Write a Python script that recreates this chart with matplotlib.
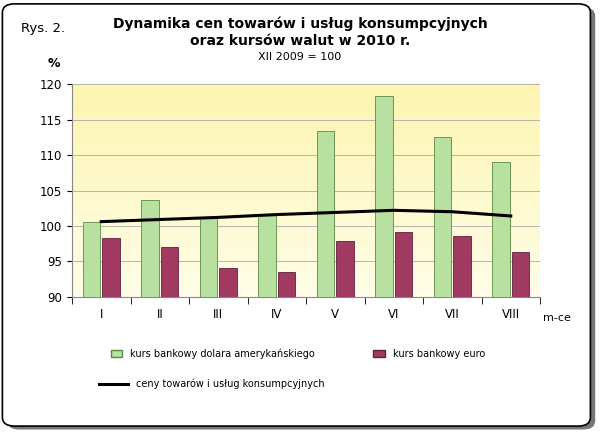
import matplotlib.pyplot as plt
import numpy as np
from matplotlib.patches import FancyBboxPatch, Patch
from matplotlib.lines import Line2D
from matplotlib.colors import LinearSegmentedColormap

# dane
miesiace = ["I", "II", "III", "IV", "V", "VI", "VII", "VIII"]
dolar = [100.6, 103.6, 101.1, 101.5, 113.4, 118.3, 112.6, 109.0]
euro = [98.3, 97.0, 94.0, 93.5, 97.9, 99.1, 98.5, 96.3]
ceny = [100.6, 100.9, 101.2, 101.6, 101.9, 102.2, 102.0, 101.4]

fig = plt.figure(figsize=(6, 4.33), dpi=100)
fig.patch.set_facecolor("white")

# ramka z cieniem
fig.patches.append(FancyBboxPatch((0.012, 0.008), 0.98, 0.975, boxstyle="round,pad=0,rounding_size=0.02",
                                  transform=fig.transFigure, fc="#777777", ec="none", zorder=-2))
fig.patches.append(FancyBboxPatch((0.004, 0.016), 0.98, 0.975, boxstyle="round,pad=0,rounding_size=0.02",
                                  transform=fig.transFigure, fc="white", ec="black", lw=1.2, zorder=-1))

ax = fig.add_axes([0.12, 0.315, 0.78, 0.49])
x = np.arange(len(miesiace))

# tło gradientowe (żółte u góry, jaśniejsze na dole)
grad = np.linspace(0, 1, 100).reshape(-1, 1)
cmap = LinearSegmentedColormap.from_list("g", ["#fdf5b0", "#fffde8"])
ax.imshow(grad, extent=[-0.5, 7.5, 90, 120], aspect="auto", cmap=cmap, origin="upper", zorder=0)

w = 0.3
ax.bar(x - w / 2 - 0.02, [d - 90 for d in dolar], w, bottom=90, color="#b8e0a0", edgecolor="#5a8a40", lw=0.6, zorder=3)
ax.bar(x + w / 2 + 0.02, [e - 90 for e in euro], w, bottom=90, color="#a03a60", edgecolor="#602040", lw=0.6, zorder=3)
ax.plot(x, ceny, color="black", lw=2.2, zorder=4)

ax.set_xlim(-0.5, 7.5)
ax.set_ylim(90, 120)
ax.set_yticks(range(90, 121, 5))
ax.set_xticks(x)
ax.set_xticklabels(miesiace)
ax.set_xticks(np.arange(-0.5, 8, 1), minor=True)
ax.tick_params(axis="x", which="major", length=0, pad=8)
ax.tick_params(axis="x", which="minor", length=5)
ax.tick_params(labelsize=8.5)
ax.grid(axis="y", color="#aaaaaa", lw=0.6, zorder=1)
for s in ["top", "right"]:
    ax.spines[s].set_visible(False)
ax.spines["left"].set_color("#888888")
ax.spines["bottom"].set_color("#888888")

fig.text(0.035, 0.925, "Rys. 2.", fontsize=9.5)
fig.text(0.5, 0.935, "Dynamika cen towarów i usług konsumpcyjnych", ha="center", fontsize=10, weight="bold")
fig.text(0.5, 0.895, "oraz kursów walut w 2010 r.", ha="center", fontsize=10, weight="bold")
fig.text(0.5, 0.862, "XII 2009 = 100", ha="center", fontsize=8)
fig.text(0.08, 0.845, "%", fontsize=9, weight="bold")
fig.text(0.905, 0.258, "m-ce", fontsize=8)

# legenda
h = [Patch(fc="#b8e0a0", ec="#5a8a40"), Patch(fc="#a03a60", ec="#602040"), Line2D([], [], color="black", lw=2.2)]
l = ["kurs bankowy dolara amerykańskiego", "kurs bankowy euro", "ceny towarów i usług konsumpcyjnych"]
fig.legend(h[:2], l[:2], loc="upper left", bbox_to_anchor=(0.17, 0.215), ncol=2, frameon=False,
           fontsize=7, columnspacing=6, handlelength=1.2)
fig.legend(h[2:], l[2:], loc="upper left", bbox_to_anchor=(0.15, 0.145), frameon=False,
           fontsize=7, handlelength=3)

fig.savefig("out.png", dpi=100)
